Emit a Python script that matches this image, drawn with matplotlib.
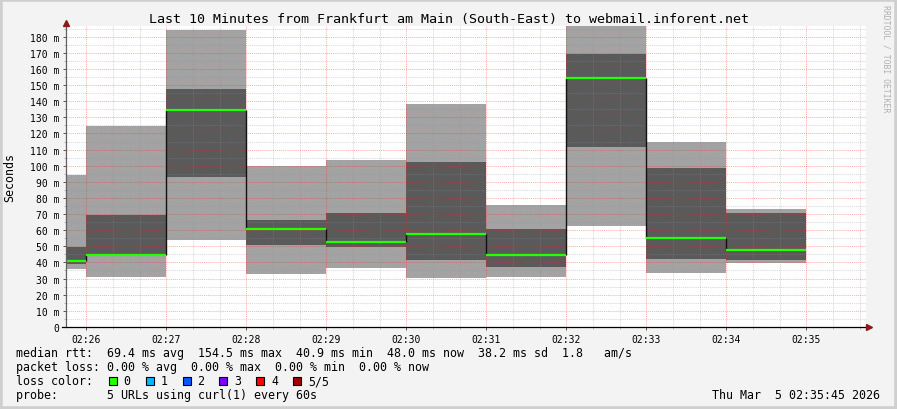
import numpy as np
import matplotlib
matplotlib.use("Agg")
from matplotlib import pyplot as plt
from matplotlib.patches import Rectangle

# smokeping style graph
W, H = 897, 410

title = "Last 10 Minutes from Frankfurt am Main (South-East) to webmail.inforent.net"
window_start = "02:25:45"
window_end = "02:35:45"
interval_ends = ["02:26", "02:27", "02:28", "02:29", "02:30",
                 "02:31", "02:32", "02:33", "02:34", "02:35"]

# sorted ping times (ms) per interval: p1 = fastest ... p5 = slowest, p3 = median
p1 = [35.9, 31.0, 53.9, 32.8, 36.7, 30.1, 31.0, 62.6, 33.4, 39.8]
p2 = [39.2, 44.3, 92.8, 50.8, 49.8, 41.7, 37.2, 111.6, 42.1, 41.5]
median = [40.9, 44.6, 134.7, 60.7, 52.9, 57.6, 44.6, 154.5, 55.3, 48.0]
p4 = [49.8, 69.6, 147.5, 66.3, 70.7, 102.3, 60.7, 169.3, 98.6, 70.7]
p5 = [94.4, 124.6, 184.2, 100.0, 103.5, 138.2, 75.6, 195.0, 114.8, 73.1]

ytick_values = [0, 10, 20, 30, 40, 50, 60, 70, 80, 90,
                100, 110, 120, 130, 140, 150, 160, 170, 180]
ytick_labels = ["0", "10 m", "20 m", "30 m", "40 m", "50 m", "60 m", "70 m", "80 m", "90 m",
                "100 m", "110 m", "120 m", "130 m", "140 m", "150 m", "160 m", "170 m", "180 m"]

legend_rtt = "median rtt:  69.4 ms avg  154.5 ms max  40.9 ms min  48.0 ms now  38.2 ms sd  1.8   am/s"
legend_loss = "packet loss: 0.00 % avg  0.00 % max  0.00 % min  0.00 % now"
loss_labels = ["0", "1", "2", "3", "4", "5/5"]
loss_colors = ["#26ff00", "#00b8ff", "#0059ff", "#7e00ff", "#ff0000", "#a10000"]
legend_probe = "probe:       5 URLs using curl(1) every 60s"
stamp = "Thu Mar  5 02:35:45 2026"

FONT = "DejaVu Sans Mono"
BG = "#f3f3f3"


def to_min(s):
    parts = [int(p) for p in s.split(":")]
    m = parts[0] * 60 + parts[1]
    if len(parts) > 2:
        m += parts[2] / 60.0
    return m


def fx(x):
    return x / W


def fy(y):
    return 1 - y / H


t0 = to_min(window_start)
t1 = to_min(window_end)
edges = [t0] + [to_min(t) for t in interval_ends]
left = np.array(edges[:-1])
width = np.diff(edges)

fig = plt.figure(figsize=(W / 100, H / 100), dpi=100, facecolor=BG)
ax = fig.add_axes([fx(66.2), fy(327.9), 800 / W, 300.6 / H])
ax.set_facecolor("white")

# smoke: light outer layers, dark inner layers
ax.bar(left, np.array(p5) - np.array(p1), width=width, bottom=p1, align="edge",
       color="#a3a3a3", linewidth=0, zorder=1)
ax.bar(left, np.array(p4) - np.array(p2), width=width, bottom=p2, align="edge",
       color="#5a5a5a", linewidth=0, zorder=1.1)

# median line, black risers + loss coloured steps
ax.vlines(edges[1:-1], median[:-1], median[1:], color="#111111", linewidth=1.0, zorder=3)
ax.hlines(median, left, left + width, color=loss_colors[0], linewidth=1.6, zorder=3.1)

ax.set_xlim(t0, t1)
ax.set_ylim(0, 186.5)

xt = [to_min(t) for t in interval_ends]
ax.set_xticks(xt)
ax.set_xticklabels(interval_ends, fontsize=7, family=FONT)
ax.set_xticks([to_min(interval_ends[0]) + k / 3 for k in range(30)], minor=True)
ax.set_yticks(ytick_values)
ax.set_yticklabels(ytick_labels, fontsize=7, family=FONT)
ax.set_yticks(np.arange(5, 186, 10), minor=True)

ax.set_axisbelow(False)
ax.grid(which="major", color="#ff2020", alpha=0.35, linestyle=(0, (1, 1)), linewidth=0.75)
ax.grid(which="minor", color="#909090", alpha=0.35, linestyle=(0, (1, 1)), linewidth=0.75)
ax.tick_params(which="major", length=2.2, width=0.7, color="#555555", pad=2.5)
ax.tick_params(which="minor", length=1.5, width=0.6, color="#aaaaaa")
ax.tick_params(axis="x", which="major", pad=3)

for s in ax.spines.values():
    s.set_visible(False)

# axes with arrows
ax.plot([0, 0], [0, 1.01], transform=ax.transAxes, color="#606060", linewidth=0.9,
        clip_on=False, zorder=4)
ax.plot([-0.005, 1.003], [0, 0], transform=ax.transAxes, color="#000000", linewidth=0.9,
        clip_on=False, zorder=4)
ax.plot([0], [1.012], marker="^", markersize=4, color="#8b1a1a", transform=ax.transAxes,
        clip_on=False, zorder=5)
ax.plot([1.004], [0], marker=">", markersize=4, color="#8b1a1a", transform=ax.transAxes,
        clip_on=False, zorder=5)

fig.text(fx(448.5), fy(19), title, ha="center", va="center", fontsize=9.6, family=FONT)
fig.text(fx(10), fy(178), "Seconds", ha="center", va="center", rotation=90,
         fontsize=8.4, family=FONT)
fig.text(fx(886), fy(5), "RRDTOOL / TOBI OETIKER", ha="center", va="top", rotation=-90,
         fontsize=5.9, family=FONT, color="#b0b0b0")

fig.text(fx(16), fy(354), legend_rtt, va="center", fontsize=8.4, family=FONT)
fig.text(fx(16), fy(368), legend_loss, va="center", fontsize=8.4, family=FONT)
fig.text(fx(16), fy(382), "loss color:", va="center", fontsize=8.4, family=FONT)
for i, (lab, col) in enumerate(zip(loss_labels, loss_colors)):
    bx = 108.7 + i * 36.9
    fig.patches.append(Rectangle((fx(bx), fy(386)), 8 / W, 8 / H, transform=fig.transFigure,
                                 facecolor=col, edgecolor="black", linewidth=0.8))
    fig.text(fx(bx + 15), fy(382), lab, va="center", fontsize=8.4, family=FONT)
fig.text(fx(16), fy(396), legend_probe, va="center", fontsize=8.4, family=FONT)
fig.text(fx(880), fy(396), stamp, ha="right", va="center", fontsize=8.4, family=FONT)

# outer frame
fig.patches.append(Rectangle((0, 0), 1, 1, transform=fig.transFigure, fill=False,
                             edgecolor="#cfcfcf", linewidth=4))

fig.savefig("out.png", dpi=100, facecolor=BG)
